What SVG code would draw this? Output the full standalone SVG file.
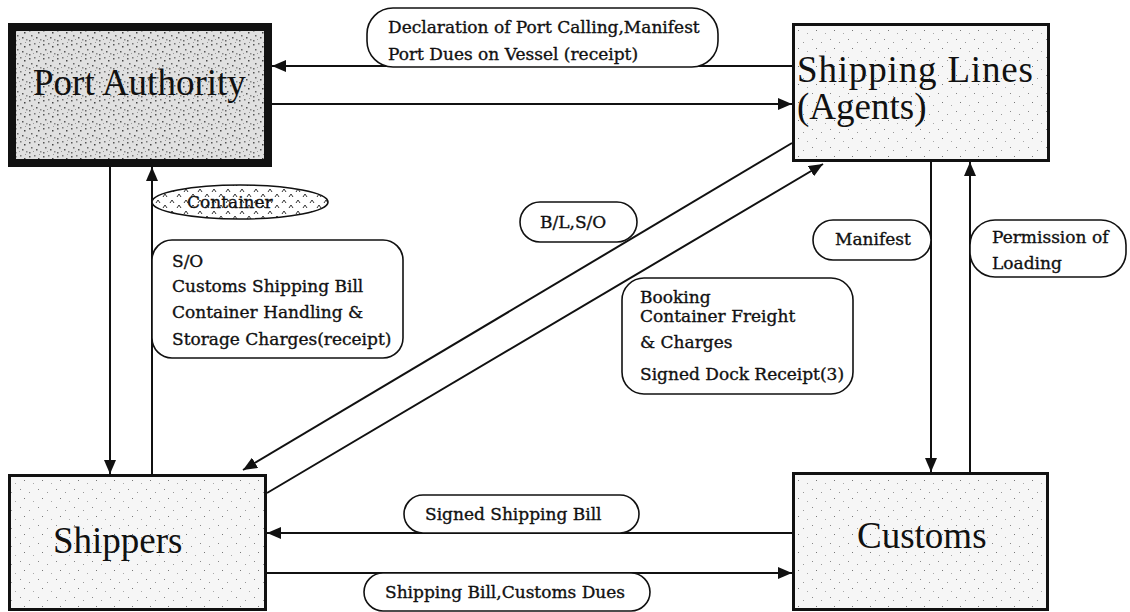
<svg xmlns="http://www.w3.org/2000/svg" width="1130" height="612" viewBox="0 0 1130 612">
<style>
.node-title{font-family:"Liberation Serif","Times New Roman",serif;font-size:37px;fill:#111}
.lbl{font-family:"DejaVu Serif","Liberation Serif",serif;font-size:17px;fill:#111;stroke:#111;stroke-width:0.35}
.pill{fill:#fff;stroke:#111;stroke-width:1.6}
.conn{stroke:#111;stroke-width:2;fill:none}
.box{stroke:#111;stroke-width:3}
</style>
<defs>
<marker id="arr" viewBox="0 0 14 12" refX="14" refY="6" markerWidth="14" markerHeight="12" markerUnits="userSpaceOnUse" orient="auto">
<path d="M0,0 L14,6 L0,12 Z" fill="#111"/>
</marker>
<pattern id="dark" width="14" height="14" patternUnits="userSpaceOnUse">
<rect width="14" height="14" fill="#e0e0e0"/>
<rect x="1" y="2" width="1.5" height="1.5" fill="#555"/>
<rect x="6" y="1" width="1.5" height="1.5" fill="#777"/>
<rect x="10" y="4" width="1.5" height="1.5" fill="#444"/>
<rect x="3" y="7" width="1.5" height="1.5" fill="#666"/>
<rect x="8" y="9" width="1.5" height="1.5" fill="#555"/>
<rect x="12" y="11" width="1.5" height="1.5" fill="#888"/>
<rect x="1" y="12" width="1.5" height="1.5" fill="#666"/>
<rect x="5" y="11" width="1" height="1" fill="#999"/>
<rect x="11" y="0" width="1" height="1" fill="#999"/>
</pattern>
<pattern id="light" width="18" height="18" patternUnits="userSpaceOnUse">
<rect width="18" height="18" fill="#f6f6f6"/>
<rect x="2" y="3" width="1" height="1" fill="#888"/>
<rect x="11" y="6" width="1" height="1" fill="#999"/>
<rect x="6" y="12" width="1" height="1" fill="#777"/>
<rect x="15" y="15" width="1" height="1" fill="#aaa"/>
</pattern>
<pattern id="caret" width="14" height="11" patternUnits="userSpaceOnUse">
<rect width="14" height="11" fill="#fff"/>
<path d="M2,5 L4,2 L6,5 M9,10 L11,7 L13,10" stroke="#333" stroke-width="1" fill="none"/>
</pattern>
</defs>

<g id="connectors">
<line class="conn" x1="792" y1="66" x2="272" y2="66" marker-end="url(#arr)"/>
<line class="conn" x1="272" y1="104" x2="792" y2="104" marker-end="url(#arr)"/>
<line class="conn" x1="110" y1="167" x2="110" y2="474" marker-end="url(#arr)"/>
<line class="conn" x1="152" y1="474" x2="152" y2="167" marker-end="url(#arr)"/>
<line class="conn" x1="792" y1="143" x2="243" y2="470" marker-end="url(#arr)"/>
<line class="conn" x1="267" y1="493" x2="823" y2="164" marker-end="url(#arr)"/>
<line class="conn" x1="931" y1="162" x2="931" y2="472" marker-end="url(#arr)"/>
<line class="conn" x1="970" y1="472" x2="970" y2="162" marker-end="url(#arr)"/>
<line class="conn" x1="792" y1="533" x2="267" y2="533" marker-end="url(#arr)"/>
<line class="conn" x1="267" y1="573" x2="792" y2="573" marker-end="url(#arr)"/>
</g>

<g id="port-authority">
<rect x="12" y="27" width="256" height="136" fill="url(#dark)" stroke="#111" stroke-width="8"/>
<text class="node-title" x="33" y="95" font-size="36">Port Authority</text>
</g>

<g id="shipping-lines">
<rect class="box" x="793.5" y="24.5" width="255" height="136" fill="url(#light)"/>
<text class="node-title" x="797" y="82" textLength="236" lengthAdjust="spacing">Shipping Lines</text>
<text class="node-title" x="797" y="119">(Agents)</text>
</g>

<g id="shippers">
<rect class="box" x="9.5" y="475.5" width="256" height="134" fill="url(#light)"/>
<text class="node-title" x="53" y="553" font-size="38">Shippers</text>
</g>

<g id="customs">
<rect class="box" x="793.5" y="473.5" width="254" height="136" fill="url(#light)"/>
<text class="node-title" x="857" y="548" font-size="38">Customs</text>
</g>

<g id="label-declaration">
<rect class="pill" x="367" y="8" width="351" height="59" rx="26"/>
<text class="lbl" x="388" y="33">Declaration of Port Calling,Manifest</text>
<text class="lbl" x="388" y="60">Port Dues on Vessel (receipt)</text>
</g>

<g id="label-container">
<ellipse cx="240" cy="202" rx="88" ry="17" fill="url(#caret)" stroke="#111" stroke-width="1.6"/>
<text class="lbl" x="187" y="208">Container</text>
</g>

<g id="label-so">
<rect class="pill" x="152" y="240" width="251" height="118" rx="20"/>
<text class="lbl" x="172" y="267">S/O</text>
<text class="lbl" x="172" y="292">Customs Shipping Bill</text>
<text class="lbl" x="172" y="318">Container Handling &amp;</text>
<text class="lbl" x="172" y="345">Storage Charges(receipt)</text>
</g>

<g id="label-bl">
<rect class="pill" x="520" y="202" width="117" height="40" rx="20"/>
<text class="lbl" x="540" y="228">B/L,S/O</text>
</g>

<g id="label-booking">
<rect class="pill" x="622" y="278" width="231" height="116" rx="22"/>
<text class="lbl" x="640" y="303">Booking</text>
<text class="lbl" x="640" y="322">Container Freight</text>
<text class="lbl" x="640" y="348">&amp; Charges</text>
<text class="lbl" x="640" y="380">Signed Dock Receipt(3)</text>
</g>

<g id="label-manifest">
<rect class="pill" x="813" y="220" width="118" height="40" rx="20"/>
<text class="lbl" x="835" y="245">Manifest</text>
</g>

<g id="label-permission">
<rect class="pill" x="970" y="220" width="156" height="57" rx="25"/>
<text class="lbl" x="992" y="243">Permission of</text>
<text class="lbl" x="992" y="269">Loading</text>
</g>

<g id="label-signed">
<rect class="pill" x="404" y="495" width="235" height="38" rx="19"/>
<text class="lbl" x="425" y="520">Signed Shipping Bill</text>
</g>

<g id="label-shipping-bill">
<rect class="pill" x="364" y="573" width="286" height="38" rx="19"/>
<text class="lbl" x="385" y="598">Shipping Bill,Customs Dues</text>
</g>
</svg>
